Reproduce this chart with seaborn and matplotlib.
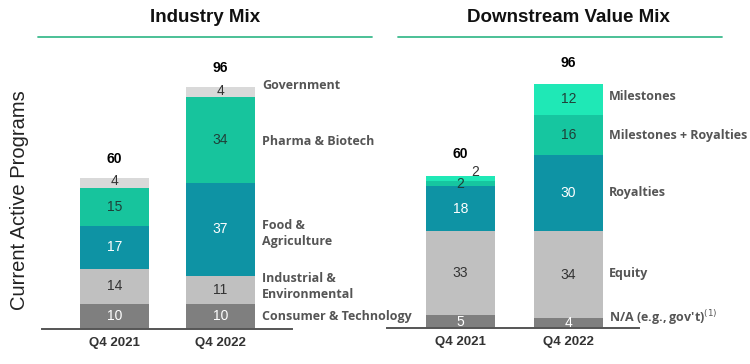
import matplotlib
matplotlib.use("Agg")
import matplotlib.pyplot as plt
import seaborn as sns
import numpy as np
import pandas as pd
from matplotlib.lines import Line2D

sns.set_theme(style="white")
plt.rcParams['font.family'] = ['Liberation Sans', 'DejaVu Sans']

# ---- data ----
periods = ["Q4 2021", "Q4 2022"]

industry_cats = ["Consumer & Technology", "Industrial &\nEnvironmental", "Food &\nAgriculture",
                 "Pharma & Biotech", "Government"]
industry_2021 = [10, 14, 17, 15, 4]
industry_2022 = [10, 11, 37, 34, 4]
industry_colors = ["#7f7f7f", "#c0c0c0", "#0e93a4", "#17c49d", "#d9d9d9"]
industry_text = ["white", "#333333", "white", "#1f3f38", "#333333"]

value_cats = ["N/A (e.g., gov't)$^{(1)}$", "Equity", "Royalties", "Milestones + Royalties", "Milestones"]
value_2021 = [5, 33, 18, 2, 2]
value_2022 = [4, 34, 30, 16, 12]
value_colors = ["#7f7f7f", "#c0c0c0", "#0e93a4", "#16c6a0", "#1fe8b6"]
value_text = ["white", "#333333", "white", "#1f3f38", "#1f3f38"]

titles = ["Industry Mix", "Downstream Value Mix"]
ylabel = "Current Active Programs"

W, H = 750, 364
fig = plt.figure(figsize=(W / 100, H / 100), dpi=100)


def px_ax(left, right, base, height):
    ax = fig.add_axes([left / W, 1 - base / H, (right - left) / W, height / H])
    ax.patch.set_alpha(0)
    return ax


def stacked(ax, v21, v22, colors, xlim, width):
    data = np.array([v21, v22], dtype=float)  # periods x layers
    cum = np.cumsum(data, axis=1)
    nl = data.shape[1]
    for i in range(nl - 1, -1, -1):
        df = pd.DataFrame({"period": periods, "value": cum[:, i]})
        sns.barplot(data=df, x="period", y="value", color=colors[i], saturation=1,
                    width=width, ax=ax, linewidth=0, errorbar=None)
    ax.set_xlim(*xlim)
    ax.set_ylim(0, 100)
    for s in ["top", "right", "left"]:
        ax.spines[s].set_visible(False)
    ax.spines["bottom"].set_color("#555555")
    ax.spines["bottom"].set_linewidth(1.4)
    ax.set_yticks([])
    ax.set_xlabel("")
    ax.set_ylabel("")
    ax.tick_params(axis="x", length=0, pad=6)
    for t in ax.get_xticklabels():
        t.set_fontsize(9.5)
        t.set_fontweight("bold")
        t.set_color("#333333")
    return data, cum


cat_font = dict(fontsize=9, fontweight="bold", color="#555555", clip_on=False,
                family=["Open Sans", "DejaVu Sans"])

# ---- left panel ----
axL = px_ax(42, 292, 329, 252)
dL, cL = stacked(axL, industry_2021, industry_2022, industry_colors, (-0.684, 1.675), 0.65)
for p in range(2):
    for i in range(dL.shape[1]):
        yc = cL[p, i] - dL[p, i] / 2
        if i == 4:
            yc += 0.6
        axL.text(p, yc, f"{int(dL[p, i])}", ha="center", va="center", fontsize=10,
                 color=industry_text[i])
    axL.text(p, cL[p, -1] + 7.5, f"{int(cL[p, -1])}", ha="center", va="center",
             fontsize=10, fontweight="bold", color="black")
cat_yL = [5.0, 16.7, 38.0, 74.5, 96.5]
for i, c in enumerate(industry_cats):
    axL.text(1.39, cat_yL[i], c, ha="left", va="center", linespacing=1.3, **cat_font)

# ---- right panel ----
axR = px_ax(387, 639, 328, 254)
dR, cR = stacked(axR, value_2021, value_2022, value_colors, (-0.68, 1.653), 0.64)
for p in range(2):
    for i in range(dR.shape[1]):
        yc = cR[p, i] - dR[p, i] / 2
        xc = p
        col = value_text[i]
        if p == 0 and i == 4:
            xc, yc, col = 0.14, cR[p, i] + 1.6, "#333333"
        elif p == 0 and i == 3:
            yc -= 0.4
        axR.text(xc, yc, f"{int(dR[p, i])}", ha="center", va="center", fontsize=10, color=col)
    axR.text(p, cR[p, -1] + 8.5, f"{int(cR[p, -1])}", ha="center", va="center",
             fontsize=10, fontweight="bold", color="black")
cat_yR = [4.3, 21.3, 53.3, 75.8, 91.0]
for i, c in enumerate(value_cats):
    axR.text(1.375, cat_yR[i], c, ha="left", va="center", **cat_font)

# ---- titles & rules ----
fig.text(205 / W, 1 - 17 / H, titles[0], ha="center", va="center", fontsize=13.5,
         fontweight="bold", color="#111111")
fig.text(568 / W, 1 - 17 / H, titles[1], ha="center", va="center", fontsize=13.5,
         fontweight="bold", color="#111111")
fig.add_artist(Line2D([38 / W, 372 / W], [1 - 37 / H, 1 - 37 / H], color="#3dbb8e", lw=1.3))
fig.add_artist(Line2D([398 / W, 722 / W], [1 - 37 / H, 1 - 37 / H], color="#3dbb8e", lw=1.3))

fig.text(20 / W, 1 - 200 / H, ylabel, rotation=90, ha="center", va="center", fontsize=14.5,
         color="#222222")

fig.savefig("out.png", dpi=100, facecolor="white")
